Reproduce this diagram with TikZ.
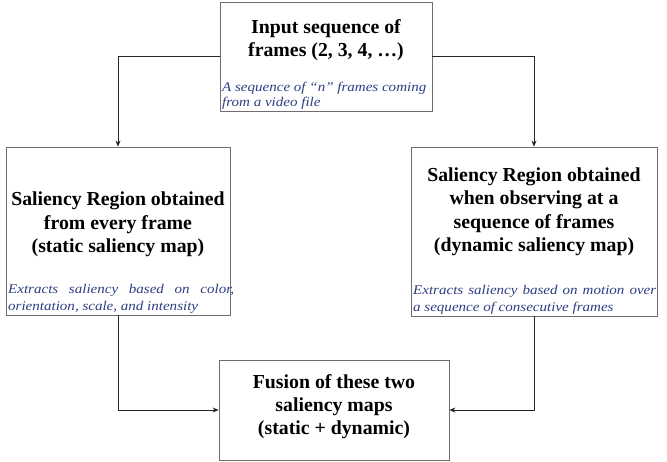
\documentclass[tikz,border=0pt]{standalone}
\usepackage{fontspec}
\setmainfont{Liberation Serif}
\newfontfamily\notefont[FakeStretch=1.13]{Liberation Serif}
\usetikzlibrary{arrows.meta}
\definecolor{noteblue}{RGB}{46,62,130}
\definecolor{boxgray}{RGB}{110,110,110}
\begin{document}
\begin{tikzpicture}[x=1pt,y=-1pt,
  box/.style={draw=boxgray,line width=0.8pt,inner sep=0pt,fill=white},
  head/.style={font=\fontsize{19.8}{23.5}\selectfont\bfseries,align=center,inner sep=0pt,anchor=base},
  note/.style={font=\notefont\fontsize{13.3}{16.7}\selectfont\itshape,text=noteblue,align=justify,inner sep=0pt,anchor=base west},
  conn/.style={draw=black!85,line width=0.7pt,-{Stealth[length=6pt,width=5pt]}}]
\useasboundingbox (0,0) rectangle (667,462);
\node[box,minimum width=212pt,minimum height=109pt] (top) at (326,56.5) {};
\node[box,minimum width=224pt,minimum height=168pt] (left) at (118,231) {};
\node[box,minimum width=246pt,minimum height=169pt] (right) at (534,231.5) {};
\node[box,minimum width=230pt,minimum height=100pt] (bot) at (334,410) {};

\node[head] (toph) at (326,57) {Input sequence of\\frames (2, 3, 4, …)};
\node[note,font=\notefont\fontsize{13.3}{15}\selectfont\itshape,text width=210pt] (topn) at (222,92) {A sequence of “n” frames coming\\from a video file};

\node[head] (lefth) at (118,253) {Saliency Region obtained\\from every frame\\(static saliency map)};
\node[note,text width=226pt] (leftn) at (8,294) {Extracts saliency based on color,\linebreak orientation, scale, and intensity};

\node[head] (righth) at (534,252) {Saliency Region obtained\\when observing at a\\sequence of frames\\(dynamic saliency map)};
\node[note,text width=243pt] (rightn) at (413,295) {Extracts saliency based on motion over\linebreak a sequence of consecutive frames};

\node[head] (both) at (334,435) {Fusion of these two\\saliency maps\\(static + dynamic)};

\draw[conn] (top.west) -| (left.north);
\draw[conn] (top.east) -| (right.north);
\draw[conn] (left.south) |- (bot.west);
\draw[conn] (right.south) |- (bot.east);
\end{tikzpicture}
\end{document}
